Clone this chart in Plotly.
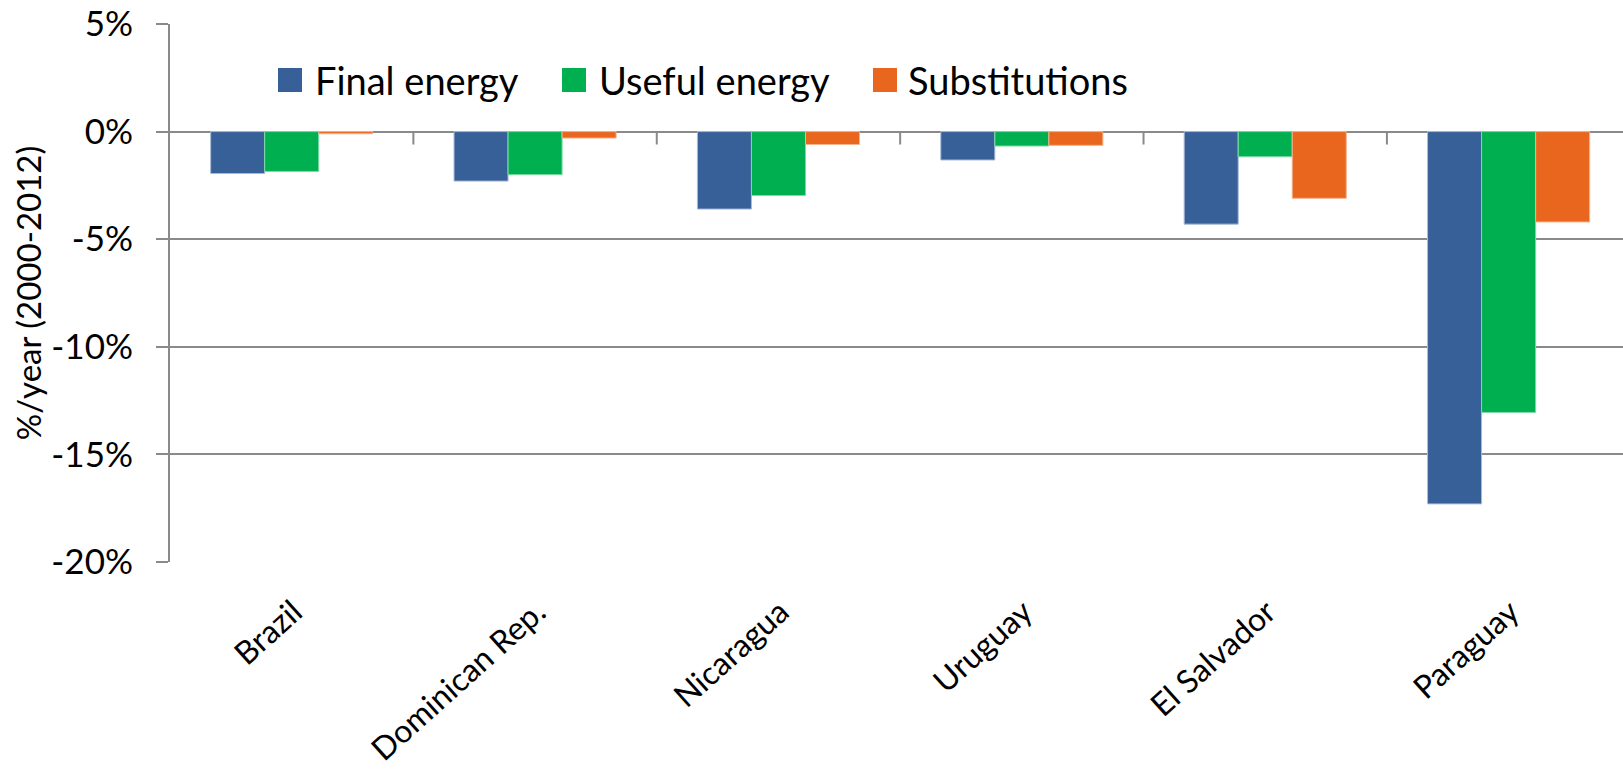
import plotly.graph_objects as go

# Average annual change, 2000-2012 (% per year)
countries = ["Brazil", "Dominican Rep.", "Nicaragua", "Uruguay", "El Salvador", "Paraguay"]
series_names = ["Final energy", "Useful energy", "Substitutions"]
final_energy = [-1.95, -2.3, -3.6, -1.32, -4.3, -17.3]
useful_energy = [-1.85, -2.0, -2.97, -0.67, -1.17, -13.05]
substitutions = [-0.1, -0.3, -0.6, -0.64, -3.1, -4.2]
y_tickvals = [5, 0, -5, -10, -15, -20]
y_ticktext = ["5%", "0%", "-5%", "-10%", "-15%", "-20%"]

colors = ["#375F98", "#00AF50", "#E9661E"]
edge_colors = ["#A9BBD8", "#7FD9A6", "#F4B38F"]
FONT = "Lato"
GRID = "#8A8A8A"

# Figure geometry (pixels)
W, H = 1623, 776
L, R, T, B = 170, 0, 24, 214
plot_w = W - L - R
plot_h = H - T - B


def px_x(p):
    return (p - L) / plot_w


def px_y(p):
    return (H - B - p) / plot_h


fig = go.Figure()
for name, vals, c, ec in zip(series_names, [final_energy, useful_energy, substitutions],
                             colors, edge_colors):
    fig.add_trace(go.Bar(
        x=countries, y=vals, name=name,
        marker=dict(color=c, line=dict(color=ec, width=1)),
        showlegend=False,
    ))

# Category boundary ticks along the zero line
shapes = []
for i in range(1, len(countries)):
    shapes.append(dict(type="line", xref="x", yref="y",
                       x0=i - 0.5, x1=i - 0.5, y0=0, y1=-0.6,
                       line=dict(color=GRID, width=2), layer="above"))

# Legend row: coloured squares with labels
legend_swatch_x = [278, 562, 873]
legend_text_x = [313, 597, 906]
sw = 24
legend_cy = 80
annotations = []
for name, c, sx, tx in zip(series_names, colors, legend_swatch_x, legend_text_x):
    shapes.append(dict(type="rect", xref="paper", yref="paper",
                       x0=px_x(sx), x1=px_x(sx + sw),
                       y0=px_y(legend_cy + sw / 2), y1=px_y(legend_cy - sw / 2),
                       fillcolor=c, line=dict(width=0)))
    annotations.append(dict(xref="paper", yref="paper", x=px_x(tx), y=px_y(legend_cy),
                            xanchor="left", yanchor="middle", text=name, showarrow=False,
                            font=dict(family=FONT, size=38, color="#000")))

fig.update_layout(
    width=W, height=H,
    margin=dict(l=L, r=R, t=T, b=B, autoexpand=False),
    paper_bgcolor="white", plot_bgcolor="white",
    barmode="group", bargap=0.334, bargroupgap=0,
    font=dict(family=FONT, size=34, color="#000"),
    shapes=shapes, annotations=annotations,
    showlegend=False,
)

fig.update_xaxes(
    type="category", range=[-0.5, 5.47],
    showgrid=False, showline=False, zeroline=False, ticks="",
    tickangle=-42, ticklabelstandoff=24, ticklabelshift=2,
    tickfont=dict(family=FONT, size=32, color="#000"),
)

fig.update_yaxes(
    range=[-20, 5], tickvals=y_tickvals, ticktext=y_ticktext,
    showgrid=True, gridcolor=GRID, gridwidth=2,
    zeroline=True, zerolinecolor=GRID, zerolinewidth=2,
    showline=True, linecolor=GRID, linewidth=2,
    ticks="outside", ticklen=12, tickcolor=GRID, tickwidth=2,
    ticklabelstandoff=16,
    tickfont=dict(family=FONT, size=35, color="#000"),
    title=dict(text="%/year (2000-2012)", standoff=0,
               font=dict(family=FONT, size=33, color="#000")),
)

fig.write_html("out.html")
